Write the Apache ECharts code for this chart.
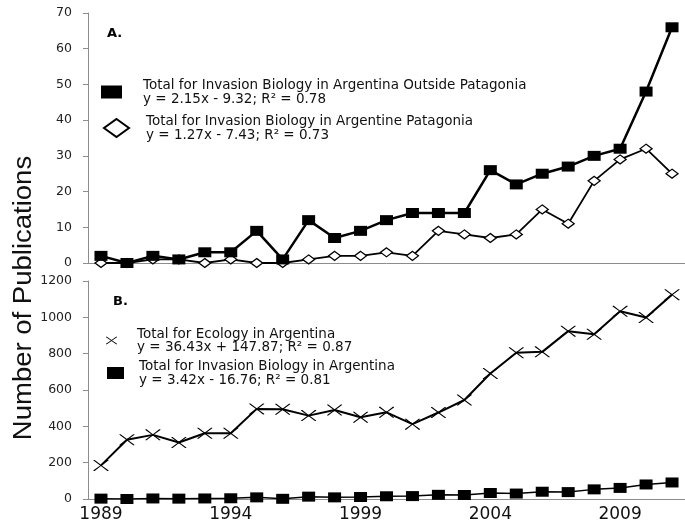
<!DOCTYPE html>
<html lang="en">
<head>
  <meta charset="UTF-8">
  <title>Publications</title>
  <script src="https://cdn.jsdelivr.net/npm/echarts@6/dist/echarts.min.js"></script>
  <style>
    html, body { margin: 0; padding: 0; background: #fff; }
    #main { width: 685px; height: 527px; }
  </style>
</head>
<body>
<div id="main"></div>
<script type="text/javascript">
  // years on the x axis
  var years = ['1989','1990','1991','1992','1993','1994','1995','1996','1997','1998','1999','2000',
               '2001','2002','2003','2004','2005','2006','2007','2008','2009','2010','2011'];

  // panel A
  var outsidePatagonia = [2,0,2,1,3,3,9,1,12,7,9,12,14,14,14,26,22,25,27,30,32,48,66];
  var patagonia = [0,0,1,1,0,1,0,0,1,2,2,3,2,9,8,7,8,15,11,23,29,32,25];

  // panel B
  var ecology = [185,326,353,311,362,362,496,494,459,490,450,477,412,476,545,691,805,810,924,907,1033,999,1125];
  var invasion = [2,0,3,2,3,4,9,1,13,9,11,15,16,23,22,33,30,40,38,53,61,80,91];

  var names = [
    'Total for Invasion Biology in Argentina Outside Patagonia',
    'Total for Invasion Biology in Argentine Patagonia',
    'Total for Ecology in Argentina',
    'Total for Invasion Biology in Argentina'
  ];
  var equations = [
    'y = 2.15x - 9.32; R\u00b2 = 0.78',
    'y = 1.27x - 7.43; R\u00b2 = 0.73',
    'y = 36.43x + 147.87; R\u00b2 = 0.87',
    'y = 3.42x - 16.76; R\u00b2 = 0.81'
  ];

  var xMark = 'path://M0,0 L1.2,0 L7.5,4.4 L13.8,0 L15,0 L15,0.5 L8.3,5 L15,9.5 L15,10 L13.8,10 L7.5,5.6 L1.2,10 L0,10 L0,9.5 L6.7,5 L0,0.5 Z';

  var chart = echarts.init(document.getElementById('main'));

  var axisGray = '#8c8c8c';
  var font = 'DejaVu Sans';

  function legendText(name) {
    return name + '\n' + equations[names.indexOf(name)];
  }

  function makeLegend(name, icon, w, h, left, top, pad, lh, style) {
    return {
      data: [{ name: name, icon: icon, itemStyle: style }],
      left: left, top: top, padding: 0,
      itemWidth: w, itemHeight: h,
      selectedMode: false,
      formatter: legendText,
      textStyle: { fontFamily: font, fontSize: 13.5, color: '#111', lineHeight: lh, padding: pad }
    };
  }

  // plain numbers, no thousands separator
  function plain(v) { return String(v); }

  var option = {
    animation: false,
    backgroundColor: '#fff',
    grid: [
      { left: 88, top: 13, width: 600, height: 250 },
      { left: 88, top: 281, width: 600, height: 218 }
    ],
    xAxis: [
      {
        gridIndex: 0, type: 'category', data: years,
        axisLine: { lineStyle: { color: axisGray, width: 1 } },
        axisTick: { interval: 0, length: 3, lineStyle: { color: axisGray } },
        axisLabel: { show: false }
      },
      {
        gridIndex: 1, type: 'category', data: years,
        axisLine: { lineStyle: { color: axisGray, width: 1 } },
        axisTick: { interval: 0, length: 3, lineStyle: { color: axisGray } },
        axisLabel: { interval: 4, fontFamily: font, fontSize: 17, color: '#111', margin: 7 }
      }
    ],
    yAxis: [
      {
        gridIndex: 0, type: 'value', min: 0, max: 70, interval: 10,
        splitLine: { show: false },
        axisLine: { show: true, lineStyle: { color: axisGray } },
        axisTick: { show: true, length: 5, lineStyle: { color: axisGray } },
        axisLabel: { fontFamily: font, fontSize: 12.5, color: '#222', margin: 16, formatter: plain }
      },
      {
        gridIndex: 1, type: 'value', min: 0, max: 1200, interval: 200,
        splitLine: { show: false },
        axisLine: { show: true, lineStyle: { color: axisGray } },
        axisTick: { show: true, length: 5, lineStyle: { color: axisGray } },
        axisLabel: { fontFamily: font, fontSize: 12.5, color: '#222', margin: 16, formatter: plain }
      }
    ],
    legend: [
      makeLegend(names[0], 'rect', 21, 13, 101, 78, [0, 0, 0, 16], 14, { color: '#000' }),
      makeLegend(names[1], 'diamond', 25, 18, 103, 107, [14, 0, 0, 12], 14,
        { color: '#fff', borderColor: '#000', borderWidth: 2 }),
      makeLegend(names[2], xMark, 11, 10, 106, 327, [0, 0, 0, 15], 13, { color: '#000' }),
      makeLegend(names[3], 'rect', 17, 12, 107, 359, [0, 0, 0, 10], 14, { color: '#000' })
    ],
    graphic: [
      {
        type: 'text', left: 107, top: 27,
        style: { text: 'A.', fontFamily: font, fontSize: 13, fontWeight: 'bold', fill: '#000' }
      },
      {
        type: 'text', left: 113, top: 295,
        style: { text: 'B.', fontFamily: font, fontSize: 13, fontWeight: 'bold', fill: '#000' }
      },
      {
        type: 'text', x: 24, y: 298, rotation: Math.PI / 2, scaleX: 1.1,
        style: {
          text: 'Number of Publications', fontFamily: 'Liberation Sans', fontSize: 25,
          fill: '#111', align: 'center', verticalAlign: 'middle'
        }
      }
    ],
    series: [
      {
        name: names[1], type: 'line', xAxisIndex: 0, yAxisIndex: 0, data: patagonia,
        symbol: 'diamond', symbolSize: [12, 9], showAllSymbol: true,
        lineStyle: { color: '#000', width: 1.8 },
        itemStyle: { color: '#fff', borderColor: '#000', borderWidth: 1.3 }
      },
      {
        name: names[0], type: 'line', xAxisIndex: 0, yAxisIndex: 0, data: outsidePatagonia,
        symbol: 'rect', symbolSize: [13, 10], showAllSymbol: true,
        lineStyle: { color: '#000', width: 2.5 },
        itemStyle: { color: '#000' }
      },
      {
        name: names[2], type: 'line', xAxisIndex: 1, yAxisIndex: 1, data: ecology,
        symbol: xMark, symbolSize: [15, 11], showAllSymbol: true,
        lineStyle: { color: '#000', width: 2 },
        itemStyle: { color: '#000' }
      },
      {
        name: names[3], type: 'line', xAxisIndex: 1, yAxisIndex: 1, data: invasion,
        symbol: 'rect', symbolSize: [13, 10], showAllSymbol: true,
        lineStyle: { color: '#000', width: 1.5 },
        itemStyle: { color: '#000' }
      }
    ]
  };

  chart.setOption(option);
</script>
</body>
</html>
